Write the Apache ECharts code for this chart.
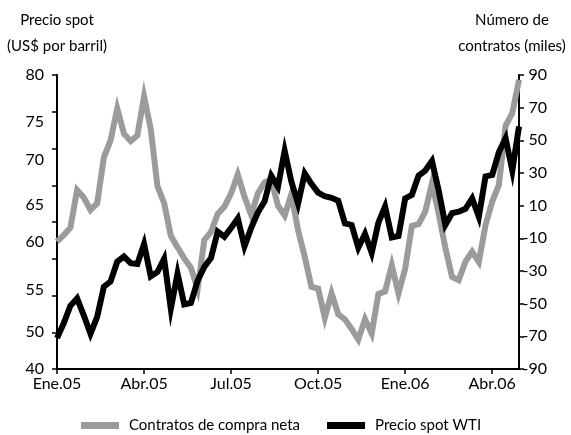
<!DOCTYPE html>
<html><head><meta charset="utf-8">
<script src="https://cdn.jsdelivr.net/npm/echarts@6/dist/echarts.min.js"></script>
<style>html,body{margin:0;padding:0;background:#fff}#c{width:571px;height:435px}</style>
</head><body><div id="c"></div>
<script>
// X-axis tick labels (one per quarter, every 13 weeks)
const xTickLabels = ['Ene.05','Abr.05','Jul.05','Oct.05','Ene.06','Abr.06'];
// Left-axis tick labels as printed in the reference
const leftTickLabels = ['80','75','70','65','60','55','50','40'];
// Weekly series, Jan 2005 - Apr 2006
// Net long contracts (thousands) - right axis
const netLong = [
  -12, -8, -3.5, 19.6, 15, 7.4, 11.5, 39.6, 50, 69.5,
  54, 49.5, 53, 76.9, 57, 22, 11.5, -8.5, -15.5, -22.3,
  -28, -41, -11, -6, 5, 9.4, 17.6, 29, 15.5, 4.3,
  17.6, 24.2, 26, 10, 4, 17, -5, -21.3, -39.7, -40.7,
  -58.6, -43.7, -56.5, -59.6, -65.5, -72, -59.5, -68.3, -44, -42.5,
  -26.5, -43.7, -28.5, -2.4, -1.3, 6.3, 23.7, 5.3, -15.8, -33.6,
  -35.6, -24.3, -18.2, -24.4, -1.9, 12.5, 22.7, 59, 66.7, 87.1
];
// WTI spot price (US$ per barrel) - left axis
const wtiSpot = [
  44.2, 46.2, 48.6, 49.6, 47.3, 44.8, 47.1, 51.2, 51.9, 54.6,
  55.3, 54.4, 54.3, 57.0, 52.6, 53.2, 55.0, 48.2, 53.0, 48.8,
  49.0, 52.0, 53.9, 55.1, 58.7, 58.0, 59.2, 60.5, 56.7, 59.2,
  61.3, 62.8, 66.3, 64.8, 69.7, 65.5, 62.5, 66.6, 65.2, 64.0,
  63.5, 63.3, 62.9, 59.8, 59.6, 56.5, 58.4, 55.8, 59.9, 62.1,
  57.9, 58.1, 63.2, 63.7, 66.3, 67.0, 68.3, 64.3, 59.6, 61.2,
  61.4, 61.8, 63.2, 60.7, 66.2, 66.4, 69.5, 71.4, 67.0, 73.0
];
// weekly category dates
const weeks = [];
for (let i = 0; i < wtiSpot.length; i++) {
  const d = new Date(Date.UTC(2005, 0, 4 + 7 * i));
  weeks.push(d.toISOString().slice(0, 10));
}

const FONT = 'Lato';
const leftLabelAt = [80, 73.67, 68.45, 62.32, 57.31, 50.73, 45.04, 40];

const chart = echarts.init(document.getElementById('c'), null, {renderer: 'canvas'});
chart.setOption({
  animation: false,
  backgroundColor: '#fff',
  textStyle: {fontFamily: FONT, color: '#000'},
  grid: {left: 57, right: 52, top: 75, bottom: 66, containLabel: false, outerBoundsMode: 'none'},
  legend: {
    left: 76, top: 413,
    icon: 'rect', itemWidth: 38, itemHeight: 7, itemGap: 27,
    textStyle: {fontFamily: FONT, fontSize: 15, color: '#000', padding: [0, 0, 0, 5]},
    data: ['Contratos de compra neta', 'Precio spot WTI']
  },
  xAxis: {
    type: 'category', data: weeks, boundaryGap: false,
    axisLine: {onZero: false, lineStyle: {color: '#000', width: 2}},
    axisTick: {interval: 12, length: 5, lineStyle: {color: '#000', width: 1.5}},
    axisLabel: {
      interval: 12, margin: 7, fontFamily: FONT, fontSize: 16, color: '#000',
      formatter: (v, idx) => xTickLabels[Math.round(idx / 13)] || ''
    },
    splitLine: {show: false}
  },
  yAxis: [{
    type: 'value', min: 40, max: 80, interval: 5, position: 'left',
    name: 'Precio spot\n(US$ por barril)', nameLocation: 'end', nameGap: 16,
    nameTextStyle: {fontFamily: FONT, fontSize: 15, color: '#000', lineHeight: 26, align: 'center'},
    axisLine: {show: true, onZero: false, lineStyle: {color: '#000', width: 2}},
    axisTick: {show: true, length: 5, lineStyle: {color: '#000', width: 1.5}},
    axisLabel: {
      margin: 13, fontFamily: FONT, fontSize: 16, color: '#000',
      customValues: leftLabelAt,
      formatter: (v) => {
        let k = 0, best = Infinity;
        leftLabelAt.forEach((p, j) => { const d = Math.abs(p - v); if (d < best) { best = d; k = j; } });
        return leftTickLabels[k];
      }
    },
    splitLine: {show: false}
  }, {
    type: 'value', min: -90, max: 90, interval: 20, position: 'right',
    name: 'Número de\ncontratos (miles)', nameLocation: 'end', nameGap: 16,
    nameTextStyle: {fontFamily: FONT, fontSize: 15, color: '#000', lineHeight: 26, align: 'center', padding: [0, 14, 0, 0]},
    axisLine: {show: true, onZero: false, lineStyle: {color: '#000', width: 2}},
    axisTick: {show: true, length: 5, lineStyle: {color: '#000', width: 1.5}},
    axisLabel: {margin: 28, align: 'right', fontFamily: FONT, fontSize: 16, color: '#000'},
    splitLine: {show: false}
  }],
  series: [{
    name: 'Contratos de compra neta', type: 'line', yAxisIndex: 1,
    data: netLong, showSymbol: false, symbol: 'none',
    color: '#9b9b9b',
    lineStyle: {color: '#9b9b9b', width: 6, join: 'miter'}
  }, {
    name: 'Precio spot WTI', type: 'line', yAxisIndex: 0,
    data: wtiSpot, showSymbol: false, symbol: 'none',
    color: '#000',
    lineStyle: {color: '#000', width: 6, join: 'miter'}
  }]
});
</script>
</body></html>
